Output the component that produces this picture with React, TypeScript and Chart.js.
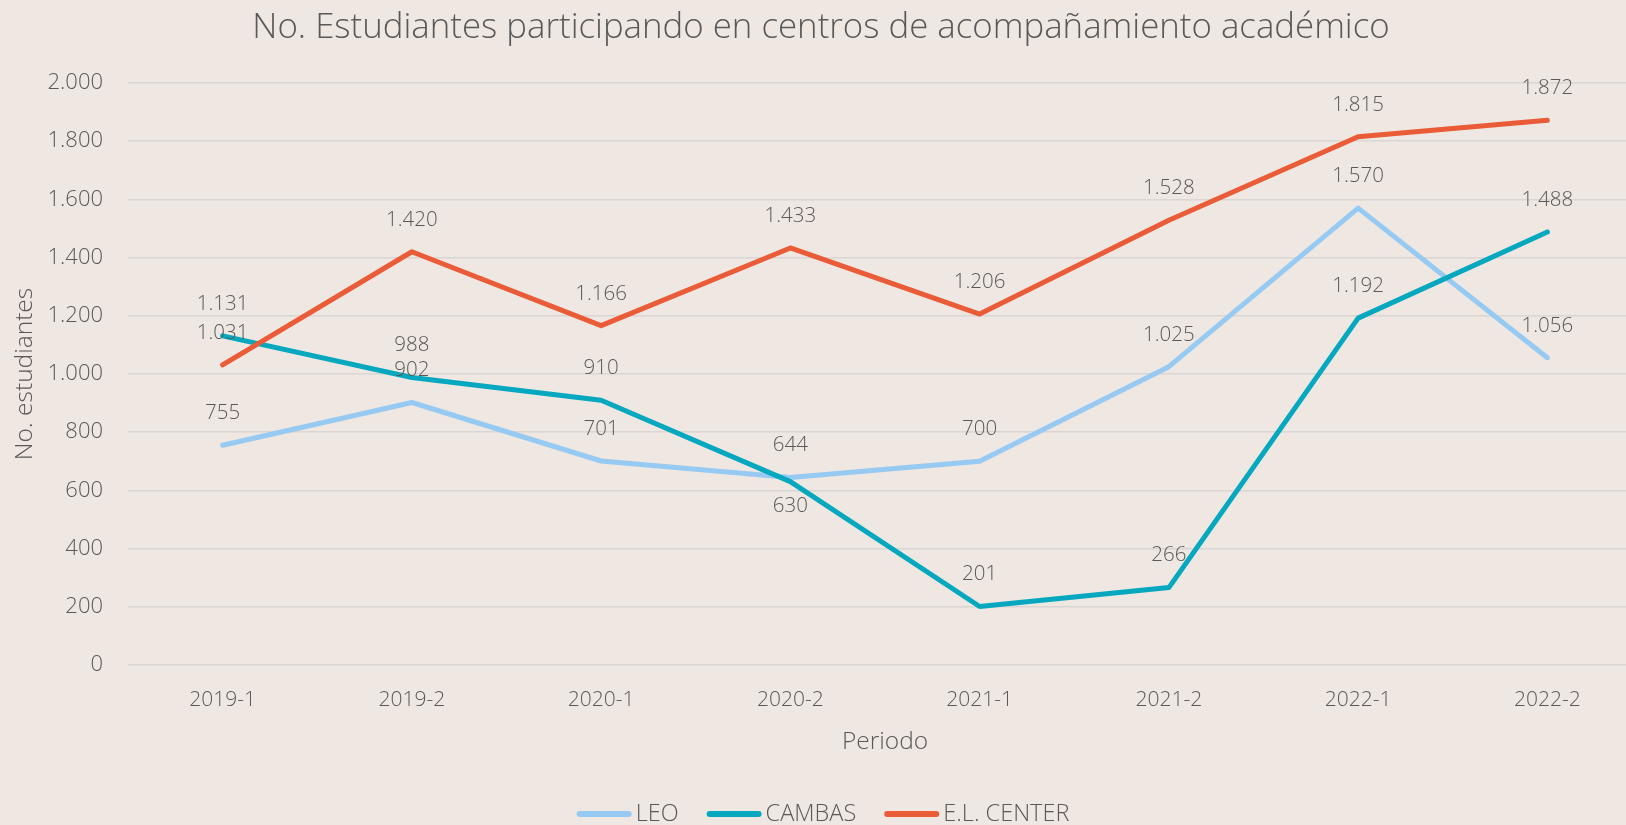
import React, { useEffect, useRef } from "react";
import { Chart, registerables } from "chart.js";

Chart.register(...registerables);

// ---- data ----
const periods = ["2019-1", "2019-2", "2020-1", "2020-2", "2021-1", "2021-2", "2022-1", "2022-2"];
const leoValues = [755, 902, 701, 644, 700, 1025, 1570, 1056];
const cambasValues = [1131, 988, 910, 630, 201, 266, 1192, 1488];
const elCenterValues = [1031, 1420, 1166, 1433, 1206, 1528, 1815, 1872];
const seriesNames = ["LEO", "CAMBAS", "E.L. CENTER"];
// label placement: true = below the point
const leoBelow = [false, false, false, false, false, false, false, false];
const cambasBelow = [false, false, false, true, false, false, false, false];
const elBelow = [false, false, false, false, false, false, false, false];
const yMin = 0;
const yMax = 2000;
const yStep = 200;

const titleText = "No. Estudiantes participando en centros de acompañamiento académico";
const xTitle = "Periodo";
const yTitle = "No. estudiantes";

// ---- style ----
const BG = "#EFE7E1";
const TEXT = "#595959";
const GRID = "#D9D6D4";
const COLORS = ["#96CAF3", "#05A8BF", "#EA5B37"];
const FONT = "'Open Sans', 'Noto Sans', sans-serif";
const W = 1642;
const H = 825;

const fmt = (v: number) => String(Math.round(v)).replace(/\B(?=(\d{3})+(?!\d))/g, ".");

const labelPlugin = {
  id: "valueLabels",
  afterDatasetsDraw(chart: any) {
    const ctx = chart.ctx;
    const belowSets = [leoBelow, cambasBelow, elBelow];
    ctx.save();
    ctx.font = `300 20.5px ${FONT}`;
    ctx.fillStyle = TEXT;
    ctx.textAlign = "center";
    ctx.textBaseline = "middle";
    chart.data.datasets.forEach((ds: any, i: number) => {
      const meta = chart.getDatasetMeta(i);
      meta.data.forEach((pt: any, j: number) => {
        const below = belowSets[i][j];
        const y = below ? pt.y + 24 : pt.y - 32;
        ctx.fillText(fmt(ds.data[j]), pt.x, y);
      });
    });
    ctx.restore();
  },
};

const legendPlugin = {
  id: "customLegend",
  afterDraw(chart: any) {
    const ctx = chart.ctx;
    ctx.save();
    ctx.font = `300 23.5px ${FONT}`;
    const lineLen = 55;
    const textGap = 4;
    const itemGap = 28;
    const widths = seriesNames.map((n) => ctx.measureText(n).width);
    const total = widths.reduce((a, w) => a + lineLen + textGap + w, 0) + itemGap * (seriesNames.length - 1);
    let x = 823 - total / 2;
    const y = 814;
    seriesNames.forEach((n, i) => {
      ctx.strokeStyle = COLORS[i];
      ctx.lineWidth = 6;
      ctx.lineCap = "round";
      ctx.beginPath();
      ctx.moveTo(x + 3, y);
      ctx.lineTo(x + lineLen - 3, y);
      ctx.stroke();
      ctx.fillStyle = TEXT;
      ctx.textAlign = "left";
      ctx.textBaseline = "middle";
      ctx.fillText(n, x + lineLen + textGap, y);
      x += lineLen + textGap + widths[i] + itemGap;
    });
    ctx.restore();
  },
};

export default function App() {
  const ref = useRef<HTMLCanvasElement | null>(null);

  useEffect(() => {
    let chart: Chart | null = null;
    let cancelled = false;
    const make = () => {
      if (cancelled || !ref.current) return;
      const values = [leoValues, cambasValues, elCenterValues];
      chart = new Chart(ref.current, {
        type: "line",
        data: {
          labels: periods,
          datasets: seriesNames.map((name, i) => ({
            label: name,
            data: values[i],
            borderColor: COLORS[i],
            backgroundColor: COLORS[i],
            borderWidth: 5,
            borderCapStyle: "round",
            borderJoinStyle: "round",
            pointRadius: 0,
            pointHoverRadius: 0,
            tension: 0,
            fill: false,
            order: 3 - i,
          })),
        },
        options: {
          responsive: false,
          animation: false,
          events: [],
          layout: { padding: 0 },
          plugins: {
            legend: { display: false },
            tooltip: { enabled: false },
            title: {
              display: true,
              text: titleText,
              color: TEXT,
              font: { family: FONT, size: 34.8, weight: "300", lineHeight: 1.2 },
              padding: { top: 7, bottom: 34.2 },
            },
          },
          scales: {
            x: {
              type: "category",
              offset: true,
              grid: { display: false, drawTicks: false },
              border: { display: false },
              ticks: {
                color: TEXT,
                font: { family: FONT, size: 21, weight: "300", lineHeight: 1.2 },
                padding: 22,
                maxRotation: 0,
                autoSkip: false,
              },
              title: {
                display: true,
                text: xTitle,
                color: TEXT,
                font: { family: FONT, size: 24.5, weight: "300", lineHeight: 1.2 },
                padding: { top: 0, bottom: 68.3 },
              },
              afterFit(scale: any) {
                scale.height = 160;
              },
            },
            y: {
              min: yMin,
              max: yMax,
              ticks: {
                stepSize: yStep,
                color: TEXT,
                font: { family: FONT, size: 22, weight: "300", lineHeight: 1.2 },
                padding: 25,
                callback: (v: any) => fmt(Number(v)),
              },
              grid: { color: GRID, lineWidth: 1.5, drawTicks: false },
              border: { display: false },
              title: {
                display: true,
                text: yTitle,
                color: TEXT,
                font: { family: FONT, size: 24.5, weight: "300", lineHeight: 1.2 },
                padding: { top: 10.3, bottom: 0 },
              },
              afterFit(scale: any) {
                scale.width = 128;
              },
            },
          },
        },
        plugins: [labelPlugin, legendPlugin],
      } as any);
    };
    const fontsApi = (document as any).fonts;
    if (fontsApi && fontsApi.load) {
      Promise.all([fontsApi.load(`300 22px 'Open Sans'`), fontsApi.load(`300 36px 'Open Sans'`)])
        .catch(() => null)
        .then(make);
    } else {
      make();
    }
    return () => {
      cancelled = true;
      if (chart) chart.destroy();
    };
  }, []);

  return (
    <div
      style={{
        position: "fixed",
        left: 0,
        top: 0,
        width: 1626,
        height: 825,
        overflow: "hidden",
        background: BG,
      }}
    >
      <canvas ref={ref} width={W} height={H} style={{ width: W, height: H, display: "block" }} />
    </div>
  );
}
